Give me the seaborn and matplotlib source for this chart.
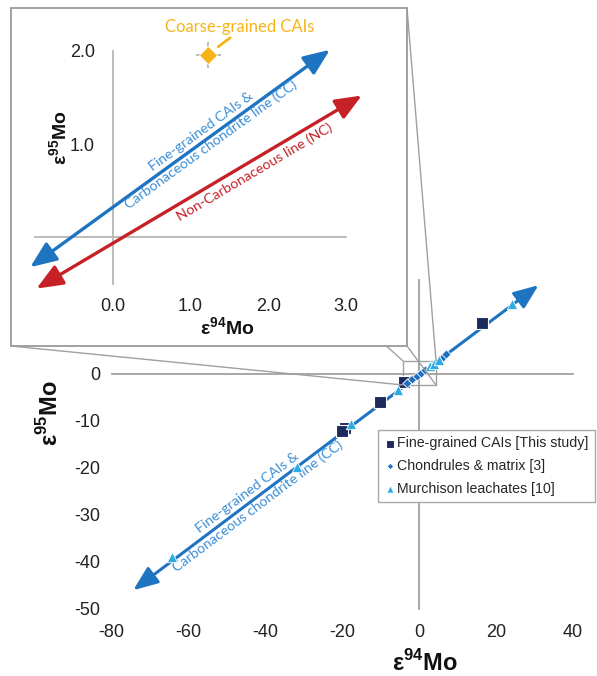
import numpy as np
import matplotlib.pyplot as plt
import seaborn as sns
from matplotlib import font_manager
from matplotlib.patches import Rectangle, ConnectionPatch
from matplotlib.ticker import FixedLocator, FuncFormatter

# ── Data (ε94Mo, ε95Mo) ──────────────────────────────────────────────────────
fine_x = [16.2, -10.2, -19.3, -20.1, -4.0]
fine_y = [10.9, -5.9, -11.6, -12.1, -1.8]
chond_x = [-3.2, -1.9, -0.6, 0.5, 1.5, 6.1, 6.9]
chond_y = [-1.9, -1.1, -0.4, 0.3, 0.9, 3.7, 4.2]
murch_x = [24.0, -17.8, -31.9, -64.4, -5.6, 2.9, 3.7, 5.0]
murch_y = [14.9, -10.6, -19.7, -38.9, -3.4, 1.7, 2.2, 2.9]
cc_main_x = [-74.4, 31.0]
cc_main_y = [-46.0, 18.9]

# inset (zoom on the origin)
cc_in_x = [-1.06, 2.79]
cc_in_y = [-0.32, 2.01]
nc_in_x = [-0.98, 3.20]
nc_in_y = [-0.55, 1.52]
coarse_x = [1.23]
coarse_y = [1.95]
coarse_xerr = [0.16]
coarse_yerr = [0.14]

main_xticks = [-80, -60, -40, -20, 0, 20, 40]
main_yticks = [-50, -40, -30, -20, -10, 0, 10, 20]
inset_xticks = [-1.0, -0.5, 0.0, 0.5, 1.0, 1.5, 2.0, 2.5, 3.0]
inset_yticks = [-0.5, 0.0, 0.5, 1.0, 1.5, 2.0]
zoom_box_x = [-4.24, 4.34]
zoom_box_y = [-2.34, 2.77]

C_FINE = "#1c2a5e"
C_CHOND = "#1f6ebf"
C_MURCH = "#2aabe2"
C_CC = "#1f74c1"
C_CC_TXT = "#3b8fd6"
C_NC = "#c62127"
C_COARSE = "#f7b418"
C_AXIS = "#a0a0a0"

sns.set_theme(style="white")
names = {f.name for f in font_manager.fontManager.ttflist}
NARROW = "Liberation Sans Narrow" if "Liberation Sans Narrow" in names else "Liberation Sans"
HUMAN = "Lato" if "Lato" in names else "DejaVu Sans"
plt.rcParams["font.family"] = [NARROW, "DejaVu Sans"]
plt.rcParams["axes.unicode_minus"] = False
plt.rcParams["mathtext.fontset"] = "custom"
plt.rcParams["mathtext.rm"] = "Liberation Sans"
plt.rcParams["mathtext.bf"] = "Liberation Sans:bold"

E94 = r"ε$^{\mathbf{94}}$Mo"
E95 = r"ε$^{\mathbf{95}}$Mo"

fig = plt.figure(figsize=(5.97, 6.76), dpi=100)

# ── Main axes: full figure, axes crossing at origin ─────────────────────────
ax = fig.add_axes([0, 0, 1, 1], zorder=0)
ax.set_facecolor("white")
ax.set_xlim(-109.05, 46.2)
ax.set_ylim(-64.26, 79.57)
for s in ["top", "right"]:
    ax.spines[s].set_visible(False)
for s in ["left", "bottom"]:
    ax.spines[s].set_position(("data", 0))
    ax.spines[s].set_color(C_AXIS)
    ax.spines[s].set_linewidth(1.3)
ax.spines["bottom"].set_bounds(-80, 40)
ax.spines["left"].set_bounds(-50, 20)
ax.xaxis.set_major_locator(FixedLocator(main_xticks))
ax.yaxis.set_major_locator(FixedLocator(main_yticks))
ax.xaxis.set_major_formatter(FuncFormatter(lambda v, p: f"{v:.0f}"))
ax.yaxis.set_major_formatter(FuncFormatter(lambda v, p: f"{v:.0f}" if v <= 0 else ""))
ax.tick_params(axis="x", direction="inout", length=8, width=1.2, color=C_AXIS,
               pad=176, labelsize=13, labelcolor="#222222")
ax.tick_params(axis="y", direction="inout", length=8, width=1.2, color=C_AXIS,
               pad=226, labelsize=13, labelcolor="#222222")

ax.annotate("", xy=(cc_main_x[1], cc_main_y[1]), xytext=(cc_main_x[0], cc_main_y[0]),
            arrowprops=dict(arrowstyle="<|-|>,head_length=0.75,head_width=0.3",
                            color=C_CC, lw=2.2, shrinkA=0, shrinkB=0, mutation_scale=20),
            zorder=2)

sns.scatterplot(x=fine_x, y=fine_y, marker="s", color=C_FINE, s=70, edgecolor="white",
                linewidth=0.8, label="Fine-grained CAIs [This study]", ax=ax, zorder=4)
sns.scatterplot(x=chond_x, y=chond_y, marker="D", color=C_CHOND, s=22, edgecolor="white",
                linewidth=0.6, label="Chondrules & matrix [3]", ax=ax, zorder=4)
sns.scatterplot(x=murch_x, y=murch_y, marker="^", color=C_MURCH, s=55, edgecolor="white",
                linewidth=0.6, label="Murchison leachates [10]", ax=ax, zorder=4)


def line_angle(a, xs, ys):
    p = a.transData.transform(np.column_stack([xs, ys]))
    return np.degrees(np.arctan2(p[1, 1] - p[0, 1], p[1, 0] - p[0, 0]))


ax.text(-43.3, -26.8, "Fine-grained CAIs &\nCarbonaceous chondrite line (CC)",
        rotation=line_angle(ax, cc_main_x, cc_main_y), rotation_mode="anchor",
        ha="center", va="center", color=C_CC_TXT, fontsize=10.3, family=HUMAN,
        linespacing=1.45, zorder=3)

ax.text(1.46, -61.5, E94, ha="center", va="center", fontsize=17,
        fontweight="bold", color="#111111")
ax.text(-96.0, -8.3, E95, ha="center", va="center", rotation=90, fontsize=17,
        fontweight="bold", color="#111111")

ax.add_patch(Rectangle((zoom_box_x[0], zoom_box_y[0]), zoom_box_x[1] - zoom_box_x[0],
                       zoom_box_y[1] - zoom_box_y[0], fill=False, edgecolor=C_AXIS,
                       lw=1.0, zorder=3))

leg = ax.legend(loc="upper left", bbox_to_anchor=(378 / 597, 1 - 430 / 676),
                bbox_transform=fig.transFigure, frameon=True, fancybox=False,
                edgecolor="#a8a8a8", borderaxespad=0, handletextpad=0.1,
                handlelength=0.8, labelspacing=0.62, borderpad=0.45, markerscale=0.7,
                fontsize=10.2)
leg.get_frame().set_linewidth(1.0)
leg.get_frame().set_facecolor("white")
leg.get_frame().set_alpha(1)

# ── Inset axes ───────────────────────────────────────────────────────────────
ins = fig.add_axes([11 / 597, 1 - 346 / 676, 396 / 597, 338 / 676], zorder=5)
ins.set_facecolor("white")
ins.set_xlim(-1.307, 3.781)
ins.set_ylim(-1.165, 2.458)
for s in ["top", "right"]:
    ins.spines[s].set_visible(False)
for s in ["left", "bottom"]:
    ins.spines[s].set_position(("data", 0))
    ins.spines[s].set_color("#b5b5b5")
    ins.spines[s].set_linewidth(1.3)
ins.spines["bottom"].set_bounds(-1.0, 3.0)
ins.spines["left"].set_bounds(-0.5, 2.0)
ins.xaxis.set_major_locator(FixedLocator(inset_xticks))
ins.yaxis.set_major_locator(FixedLocator(inset_yticks))
ins.xaxis.set_major_formatter(FuncFormatter(lambda v, p: f"{v:.1f}" if v >= 0 and v % 1 == 0 else ""))
ins.yaxis.set_major_formatter(FuncFormatter(lambda v, p: f"{v:.1f}" if v > 0 and v % 1 == 0 else ""))
ins.tick_params(axis="x", direction="inout", length=8, width=1.2, color="#b5b5b5",
                pad=40, labelsize=13, labelcolor="#222222")
ins.tick_params(axis="y", direction="inout", length=8, width=1.2, color="#b5b5b5",
                pad=9, labelsize=13, labelcolor="#222222")
ins.add_patch(Rectangle((0, 0), 1, 1, transform=ins.transAxes, fill=False,
                        edgecolor="#9a9a9a", lw=1.3, clip_on=False, zorder=10))

for xs, ys, c in [(cc_in_x, cc_in_y, C_CC), (nc_in_x, nc_in_y, C_NC)]:
    ins.annotate("", xy=(xs[1], ys[1]), xytext=(xs[0], ys[0]),
                 arrowprops=dict(arrowstyle="<|-|>,head_length=0.8,head_width=0.33",
                                 color=c, lw=2.4, shrinkA=0, shrinkB=0, mutation_scale=20),
                 zorder=3)

ins.text(1.199, 1.064, "Fine-grained CAIs &\nCarbonaceous chondrite line (CC)",
         rotation=line_angle(ins, cc_in_x, cc_in_y), rotation_mode="anchor",
         ha="center", va="center", color=C_CC_TXT, fontsize=10.3, family=HUMAN,
         linespacing=1.45, zorder=4)
ins.text(1.828, 0.703, "Non-Carbonaceous line (NC)",
         rotation=line_angle(ins, nc_in_x, nc_in_y), rotation_mode="anchor",
         ha="center", va="center", color=C_NC, fontsize=10.3, family=HUMAN, zorder=4)

ins.errorbar(coarse_x, coarse_y, xerr=coarse_xerr, yerr=coarse_yerr, fmt="none",
             ecolor="#b0b0b0", elinewidth=1.2, capsize=0, zorder=4)
sns.scatterplot(x=coarse_x, y=coarse_y, marker="D", color=C_COARSE, s=85,
                edgecolor="white", linewidth=0.6, ax=ins, zorder=5, legend=False)
ins.plot([1.355, 1.509], [2.043, 2.139], color=C_COARSE, lw=2, solid_capstyle="round")
ins.text(1.636, 2.254, "Coarse-grained CAIs", ha="center", va="center",
         color=C_COARSE, fontsize=12, family=HUMAN)

ins.text(1.469, -0.972, E94, ha="center", va="center", fontsize=14,
         fontweight="bold", color="#111111")
ins.text(-0.677, 1.064, E95, ha="center", va="center", rotation=90, fontsize=14,
         fontweight="bold", color="#111111")

# connector lines from inset corners to the zoom box on the main axes
corners_in = [(0, 1), (1, 1), (0, 0), (1, 0)]
corners_main = [(zoom_box_x[0], zoom_box_y[1]), (zoom_box_x[1], zoom_box_y[1]),
                (zoom_box_x[0], zoom_box_y[0]), (zoom_box_x[1], zoom_box_y[0])]
for a, b in zip(corners_in, corners_main):
    con = ConnectionPatch(xyA=a, coordsA=ins.transAxes, xyB=b, coordsB=ax.transData,
                          color=C_AXIS, lw=1.0, zorder=2)
    fig.add_artist(con)

fig.savefig("out.png", dpi=100)
plt.close(fig)
